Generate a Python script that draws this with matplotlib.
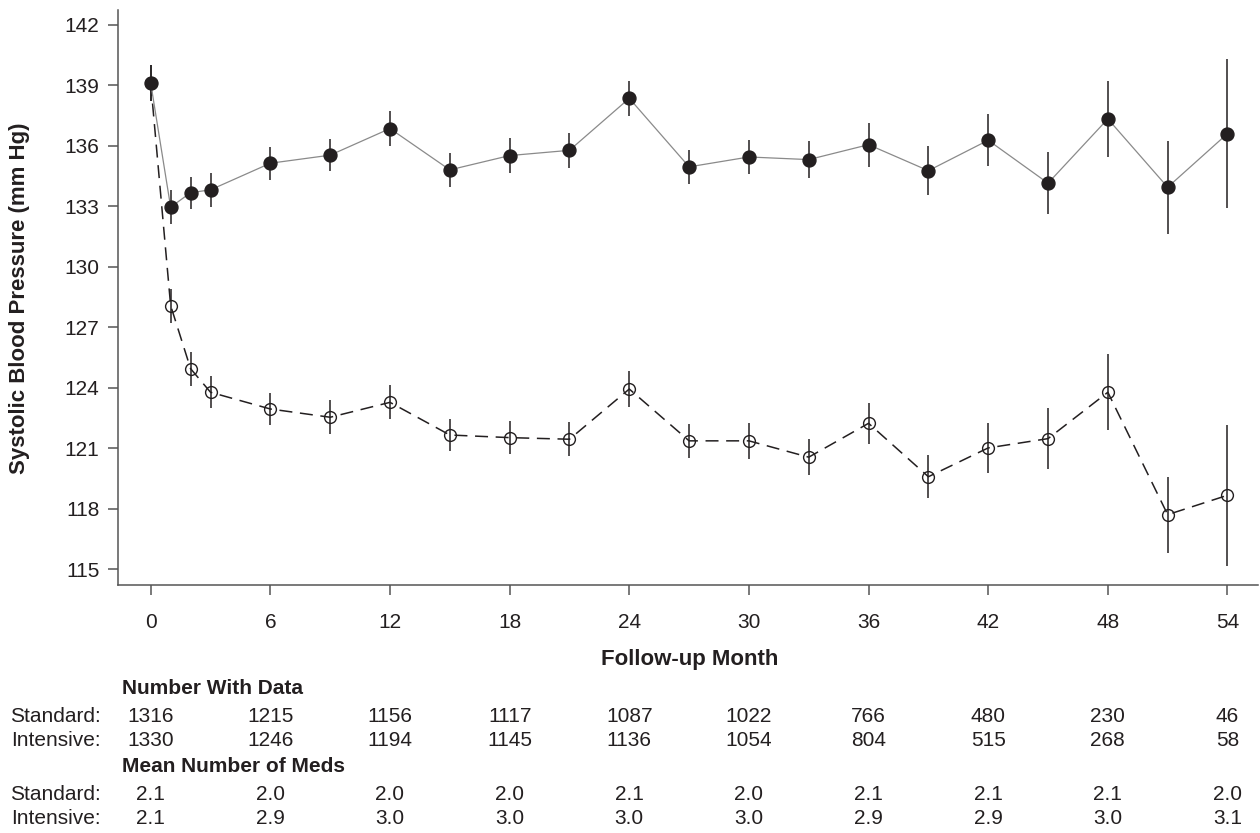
import matplotlib
matplotlib.use("Agg")
import matplotlib.pyplot as plt
import matplotlib.transforms as mtransforms

plt.rcParams["font.family"] = ["Liberation Sans", "DejaVu Sans"]

months = [0, 1, 2, 3, 6, 9, 12, 15, 18, 21, 24, 27, 30, 33, 36, 39, 42, 45, 48, 51, 54]
standard_sbp = [139.12, 132.96, 133.68, 133.82, 135.14, 135.54, 136.86, 134.81, 135.52, 135.78, 138.36,
                134.96, 135.45, 135.32, 136.06, 134.77, 136.28, 134.15, 137.34, 133.95, 136.61]
standard_err = [0.88, 0.85, 0.80, 0.83, 0.82, 0.80, 0.88, 0.85, 0.86, 0.86, 0.86,
                0.84, 0.86, 0.93, 1.10, 1.20, 1.28, 1.55, 1.88, 2.30, 3.69]
intensive_sbp = [139.12, 128.08, 124.95, 123.78, 122.95, 122.54, 123.28, 121.66, 121.53, 121.45, 123.94,
                 121.37, 121.37, 120.56, 122.24, 119.59, 121.02, 121.48, 123.78, 117.71, 118.67]
intensive_err = [0.88, 0.84, 0.84, 0.80, 0.80, 0.84, 0.85, 0.80, 0.81, 0.85, 0.91,
                 0.84, 0.88, 0.88, 1.03, 1.06, 1.26, 1.53, 1.88, 1.88, 3.49]

table_months = [0, 6, 12, 18, 24, 30, 36, 42, 48, 54]
n_standard = ["1316", "1215", "1156", "1117", "1087", "1022", "766", "480", "230", "46"]
n_intensive = ["1330", "1246", "1194", "1145", "1136", "1054", "804", "515", "268", "58"]
meds_standard = ["2.1", "2.0", "2.0", "2.0", "2.1", "2.0", "2.1", "2.1", "2.1", "2.0"]
meds_intensive = ["2.1", "2.9", "3.0", "3.0", "3.0", "3.0", "2.9", "2.9", "3.0", "3.1"]

yticks = [115, 118, 121, 124, 127, 130, 133, 136, 139, 142]

ink = "#231f20"
W, H = 1260, 833
fig = plt.figure(figsize=(W / 100, H / 100), dpi=100)
ax = fig.add_axes([118 / W, 1 - 585 / H, 1140 / W, 575 / H])

# intensive arm: open circles, dashed line
ax.errorbar(months, intensive_sbp, yerr=intensive_err, fmt="none", ecolor=ink, elinewidth=1.1, capsize=0, zorder=2)
ax.plot(months, intensive_sbp, color=ink, lw=1.1, dashes=(8.5, 5), marker="o", ms=8.5,
        mfc="none", mec=ink, mew=1.0, zorder=3)

# standard arm: filled circles, thin gray line
ax.errorbar(months, standard_sbp, yerr=standard_err, fmt="none", ecolor=ink, elinewidth=1.1, capsize=0, zorder=4)
ax.plot(months, standard_sbp, color="#8a8a8a", lw=0.9, zorder=4)
ax.plot(months, standard_sbp, ls="none", marker="o", ms=9.3, mfc=ink, mec=ink, zorder=5)

ax.set_xlim(-1.64, 55.53)
ax.set_ylim(114.22, 142.74)
ax.set_xticks(table_months)
ax.set_yticks(yticks)
ax.spines["top"].set_visible(False)
ax.spines["right"].set_visible(False)
for s in ["left", "bottom"]:
    ax.spines[s].set_color("#555555")
    ax.spines[s].set_linewidth(1.1)
ax.tick_params(axis="both", colors="#555555", labelcolor=ink, labelsize=15, length=7, width=1.1)
ax.tick_params(axis="x", pad=13)
ax.tick_params(axis="y", pad=6.5)

fig.text(20 / W, 1 - 298 / H, "Systolic Blood Pressure (mm Hg)", rotation=90, ha="center", va="center",
         fontsize=16, fontweight="bold", color=ink)
fig.text(690 / W, 1 - 659 / H, "Follow-up Month", ha="center", va="center",
         fontsize=16, fontweight="bold", color=ink)

# table below the axis
trans = mtransforms.blended_transform_factory(ax.transData, fig.transFigure)
rows = [
    (688, "Number With Data", None),
    (717, "Standard:", n_standard),
    (740, "Intensive:", n_intensive),
    (766, "Mean Number of Meds", None),
    (795, "Standard:", meds_standard),
    (818, "Intensive:", meds_intensive),
]
for ypix, label, values in rows:
    yf = 1 - ypix / H
    if values is None:
        fig.text(122 / W, yf, label, ha="left", va="center", fontsize=15, fontweight="bold", color=ink)
    else:
        fig.text(101 / W, yf, label, ha="right", va="center", fontsize=15, color=ink)
        for m, v in zip(table_months, values):
            ax.text(m, yf, v, transform=trans, ha="center", va="center", fontsize=15, color=ink, clip_on=False)

fig.savefig("out.png", dpi=100)
